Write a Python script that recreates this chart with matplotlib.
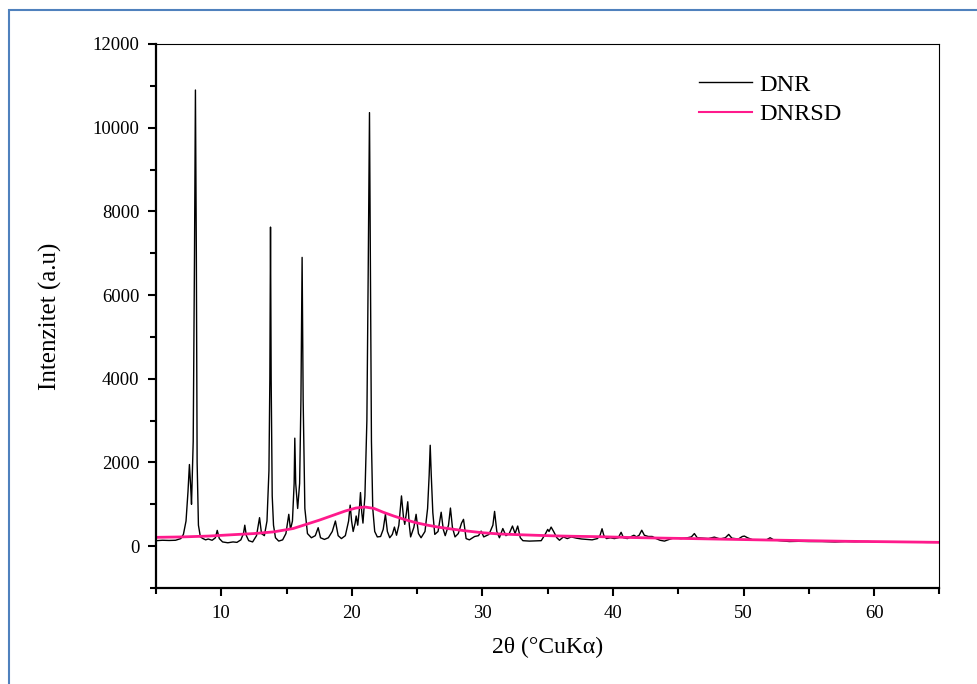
import matplotlib

matplotlib.use("Agg")

import matplotlib.pyplot as plt
from matplotlib.patches import Rectangle
from matplotlib.ticker import MultipleLocator

# DNR diffractogram (2theta, intensity)
dnr_2theta = [
    5.0, 5.5, 6.0, 6.5, 6.9, 7.1, 7.3, 7.45, 7.56, 7.66, 7.72, 7.85, 7.95, 8.02,
    8.09, 8.15, 8.25, 8.4, 8.6, 8.8, 9.0, 9.3, 9.55, 9.69, 9.85, 10.1, 10.5,
    10.9, 11.2, 11.5, 11.7, 11.8, 11.92, 12.1, 12.4, 12.7, 12.93, 13.08, 13.3,
    13.5, 13.65, 13.72, 13.77, 13.82, 13.9, 14.0, 14.15, 14.4, 14.7, 14.95,
    15.17, 15.3, 15.45, 15.58, 15.63, 15.7, 15.85, 16.0, 16.1, 16.19, 16.27,
    16.4, 16.6, 16.9, 17.2, 17.42, 17.6, 17.9, 18.2, 18.5, 18.74, 18.95, 19.2,
    19.5, 19.75, 19.87, 19.98, 20.1, 20.25, 20.33, 20.45, 20.58, 20.66, 20.76,
    20.85, 21.0, 21.15, 21.25, 21.35, 21.42, 21.5, 21.6, 21.75, 21.95, 22.2,
    22.4, 22.57, 22.72, 22.9, 23.1, 23.26, 23.42, 23.6, 23.8, 23.95, 24.05,
    24.18, 24.28, 24.4, 24.5, 24.75, 24.92, 25.1, 25.3, 25.6, 25.8, 25.92, 26.0,
    26.08, 26.2, 26.35, 26.6, 26.84, 27.0, 27.15, 27.4, 27.55, 27.7, 27.9, 28.15,
    28.4, 28.55, 28.75, 29.0, 29.4, 29.7, 29.9, 30.1, 30.5, 30.8, 30.93, 31.1,
    31.3, 31.56, 31.8, 32.05, 32.3, 32.5, 32.7, 32.9, 33.1, 33.6, 34.1, 34.5,
    34.8, 35.0, 35.1, 35.26, 35.45, 35.7, 35.9, 36.2, 36.5, 36.8, 37.2, 37.6,
    38.0, 38.4, 38.8, 39.0, 39.16, 39.3, 39.5, 39.8, 40.1, 40.4, 40.62, 40.8,
    41.1, 41.4, 41.6, 41.8, 42.0, 42.2, 42.4, 42.7, 43.0, 43.3, 43.6, 43.94,
    44.3, 44.7, 45.2, 45.7, 46.0, 46.23, 46.45, 46.9, 47.3, 47.76, 48.2, 48.6,
    48.86, 49.1, 49.6, 49.9, 50.06, 50.3, 50.7, 51.2, 51.7, 52.03, 52.3, 52.8,
    53.5, 54.2, 55.0, 56.0, 57.0, 57.8, 58.5, 59.5, 60.2, 61.0, 62.0, 63.0,
    64.0, 65.0,
]
dnr_intensity = [
    130, 140, 135, 140, 180, 280, 600, 1300, 1950, 1400, 1000, 2500, 7000, 10900,
    7000, 2000, 500, 220, 180, 150, 170, 140, 200, 376, 180, 100, 80,
    100, 90, 150, 300, 500, 250, 130, 100, 250, 680, 300, 250,
    600, 1800, 4000, 7624, 4000, 1200, 500, 200, 120, 150, 300,
    760, 400, 600, 1500, 2580, 1500, 900, 1500, 3500, 6900, 3500,
    900, 300, 200, 250, 440, 200, 160, 200, 350, 600, 250, 180,
    250, 600, 980, 600, 350, 550, 720, 500, 900, 1280, 800,
    550, 1200, 3000, 6500, 10360, 6500, 2500, 900, 350, 220, 230,
    400, 760, 350, 200, 280, 455, 260, 500, 1200, 700, 520,
    800, 1060, 500, 220, 450, 760, 300, 200, 350, 900, 1700, 2410,
    1700, 800, 280, 350, 810, 400, 250, 500, 910, 450, 220, 300,
    550, 640, 180, 150, 230, 250, 360, 220, 280, 500, 830, 350,
    200, 420, 250, 300, 480, 300, 480, 200, 130, 120, 125, 130,
    280, 400, 350, 455, 350, 200, 140, 220, 180, 220, 190, 170,
    160, 150, 180, 250, 415, 250, 180, 200, 180, 200, 330, 200,
    180, 230, 260, 220, 260, 380, 260, 230, 230, 180, 140, 120,
    160, 200, 180, 200, 220, 300, 200, 190, 180, 215, 170, 200,
    280, 190, 170, 230, 240, 200, 150, 150, 140, 200, 150, 130,
    110, 115, 110, 110, 100, 110, 105, 110, 100, 100, 95, 95,
    90, 90,
]

# DNRSD (amorphous halo)
dnrsd_2theta = [
    5.0, 7.0, 9.0, 11.0, 12.5, 14.0, 15.5, 16.5, 17.5, 18.5, 19.5, 20.3, 21.0,
    21.7, 22.4, 23.2, 24.0, 24.9, 25.8, 26.7, 27.6, 28.7, 30.0, 31.3, 32.6,
    34.0, 35.5, 37.0, 39.0, 41.5, 44.0, 46.0, 49.4, 52.0, 55.0, 58.0, 61.0, 65.0,
]
dnrsd_intensity = [
    210, 220, 240, 275, 300, 340, 420, 520, 620, 730, 840, 910, 935,
    900, 810, 720, 640, 560, 500, 450, 410, 365, 320, 290, 275,
    260, 245, 235, 225, 205, 190, 180, 160, 145, 130, 115, 105, 90,
]

plt.rcParams["font.family"] = ["Liberation Serif", "DejaVu Serif"]

fig = plt.figure(figsize=(9.78, 6.84), dpi=100)
ax = fig.add_axes([0.1595, 0.1404, 0.8011, 0.7953])

ax.plot(dnr_2theta, dnr_intensity, color="black", lw=1.0, label="DNR")
ax.plot(dnrsd_2theta, dnrsd_intensity, color="#FF1A8C", lw=2.0, label="DNRSD")

ax.set_xlim(5, 65)
ax.set_ylim(-1000, 12000)
ax.xaxis.set_major_locator(MultipleLocator(10))
ax.xaxis.set_minor_locator(MultipleLocator(5))
ax.set_yticks(range(0, 12001, 2000))
ax.yaxis.set_minor_locator(MultipleLocator(1000))

ax.tick_params(which="both", direction="out", top=False, right=False,
               labelsize=13.5, width=1.5)
ax.tick_params(which="major", length=6, pad=6)
ax.tick_params(which="minor", length=4)

ax.spines["left"].set_linewidth(1.6)
ax.spines["bottom"].set_linewidth(1.6)
ax.spines["top"].set_linewidth(0.8)
ax.spines["right"].set_linewidth(0.8)

ax.set_xlabel("2θ (°CuKα)", fontsize=17, labelpad=11)
ax.set_ylabel("Intenzitet (a.u)", fontsize=18, labelpad=22)

leg = ax.legend(loc="upper left", bbox_to_anchor=(0.693, 0.945), frameon=False,
                fontsize=17.5, handlelength=2.2, handletextpad=0.3,
                labelspacing=0.3, borderpad=0, borderaxespad=0)
leg.get_lines()[1].set_linewidth(1.5)

# blue frame around the figure (only left/top edges fall inside the image)
fig.patches.append(Rectangle((9 / 978, -0.05), 1.2, 1 - 10 / 684 + 0.05,
                             transform=fig.transFigure, fill=False,
                             edgecolor="#4F81BD", lw=1.5))

fig.savefig("out.png", dpi=100)
